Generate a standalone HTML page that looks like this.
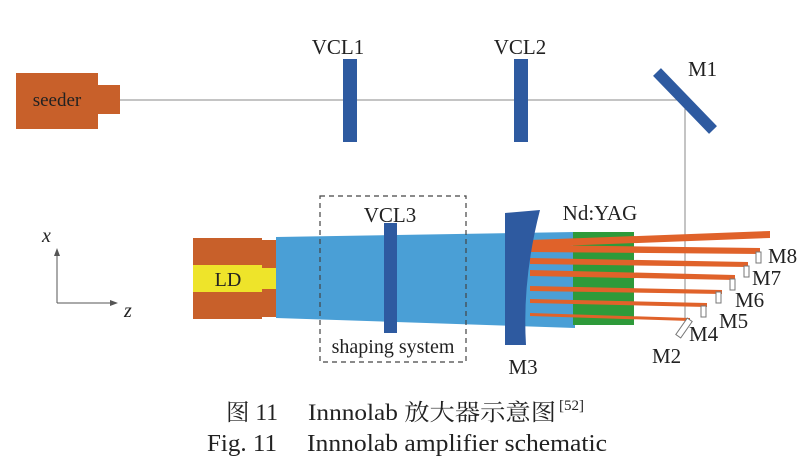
<!DOCTYPE html>
<html><head><meta charset="utf-8"><style>
html,body{margin:0;padding:0;background:#fff;}
svg{display:block;}
text{font-family:"Liberation Serif","Noto Serif CJK SC",serif;fill:#222;}
</style></head><body>
<svg width="811" height="471" viewBox="0 0 811 471">
<line x1="120" y1="100" x2="685" y2="100" stroke="#888" stroke-width="1"/>
<line x1="685" y1="100" x2="685" y2="322" stroke="#888" stroke-width="1"/>
<rect x="16" y="73" width="82" height="56" fill="#c8602a"/>
<rect x="98" y="85" width="22" height="29" fill="#c8602a"/>
<text x="57" y="106" font-size="19" text-anchor="middle">seeder</text>
<rect x="343" y="59" width="14" height="83" fill="#2e5aa0"/>
<rect x="514" y="59" width="14" height="83" fill="#2e5aa0"/>
<line x1="657" y1="72" x2="713" y2="130" stroke="#2e5aa0" stroke-width="11"/>
<text x="338" y="54" font-size="21" text-anchor="middle">VCL1</text>
<text x="520" y="54" font-size="21" text-anchor="middle">VCL2</text>
<text x="688" y="76" font-size="21">M1</text>
<line x1="57" y1="303" x2="57" y2="254" stroke="#555" stroke-width="1"/>
<polygon points="57,248 54,256 60,256" fill="#555"/>
<line x1="57" y1="303" x2="112" y2="303" stroke="#555" stroke-width="1"/>
<polygon points="118,303 110,300 110,306" fill="#555"/>
<text x="42" y="242" font-size="20" font-style="italic">x</text>
<text x="124" y="317" font-size="20" font-style="italic">z</text>
<rect x="193" y="238" width="69" height="81" fill="#c8602a"/>
<rect x="262" y="240" width="14" height="77" fill="#c8602a"/>
<rect x="193" y="265" width="69" height="27" fill="#eee42a"/>
<rect x="262" y="268" width="14" height="21" fill="#eee42a"/>
<text x="228" y="286" font-size="20" text-anchor="middle">LD</text>
<polygon points="276,237 575,232 575,328 276,318" fill="#4a9fd6"/>
<rect x="573" y="232" width="61" height="93" fill="#2e9a3a"/>
<g fill="#e0622a">
<polygon points="530,240 770,231 770,238 530,247"/>
<polygon points="530,245 760,248 760,254 530,252"/>
<polygon points="530,258 748,262 748,267 530,264"/>
<polygon points="530,270 735,275 735,280 530,276"/>
<polygon points="530,286 722,290 722,294 530,291"/>
<polygon points="530,299 707,303 707,307 530,303"/>
<polygon points="530,313 690,318 690,321 530,316"/>
</g>
<g fill="#fff" stroke="#777" stroke-width="1">
<rect x="756" y="252" width="5" height="11"/>
<rect x="744" y="266" width="5" height="11"/>
<rect x="730" y="279" width="5" height="11"/>
<rect x="716" y="292" width="5" height="11"/>
<rect x="701" y="306" width="5" height="11"/>
<rect x="681" y="318" width="6" height="20" transform="rotate(35 684 328)"/>
</g>
<rect x="320" y="196" width="146" height="166" fill="none" stroke="#444" stroke-width="1.2" stroke-dasharray="5,4"/>
<rect x="384" y="223" width="13" height="110" fill="#2e5aa0"/>
<text x="390" y="222" font-size="21" text-anchor="middle">VCL3</text>
<text x="393" y="353" font-size="20" text-anchor="middle">shaping system</text>
<path d="M505,213 L540,210 Q522,280 526,345 L505,345 Z" fill="#2e5aa0"/>
<text x="523" y="374" font-size="21" text-anchor="middle">M3</text>
<text x="600" y="220" font-size="21" text-anchor="middle">Nd:YAG</text>
<text x="652" y="363" font-size="21">M2</text>
<text x="689" y="341" font-size="21">M4</text>
<text x="719" y="328" font-size="21">M5</text>
<text x="735" y="307" font-size="21">M6</text>
<text x="752" y="285" font-size="21">M7</text>
<text x="768" y="263" font-size="21">M8</text>
<text x="226" y="420" font-size="23" textLength="52" lengthAdjust="spacingAndGlyphs">图 11</text>
<text x="308" y="420" font-size="23" textLength="248" lengthAdjust="spacingAndGlyphs">Innnolab 放大器示意图</text>
<text x="559" y="410" font-size="15">[52]</text>
<text x="207" y="451" font-size="24" textLength="70" lengthAdjust="spacingAndGlyphs">Fig. 11</text>
<text x="307" y="451" font-size="24" textLength="300" lengthAdjust="spacingAndGlyphs">Innnolab amplifier schematic</text>
</svg>
</body></html>
